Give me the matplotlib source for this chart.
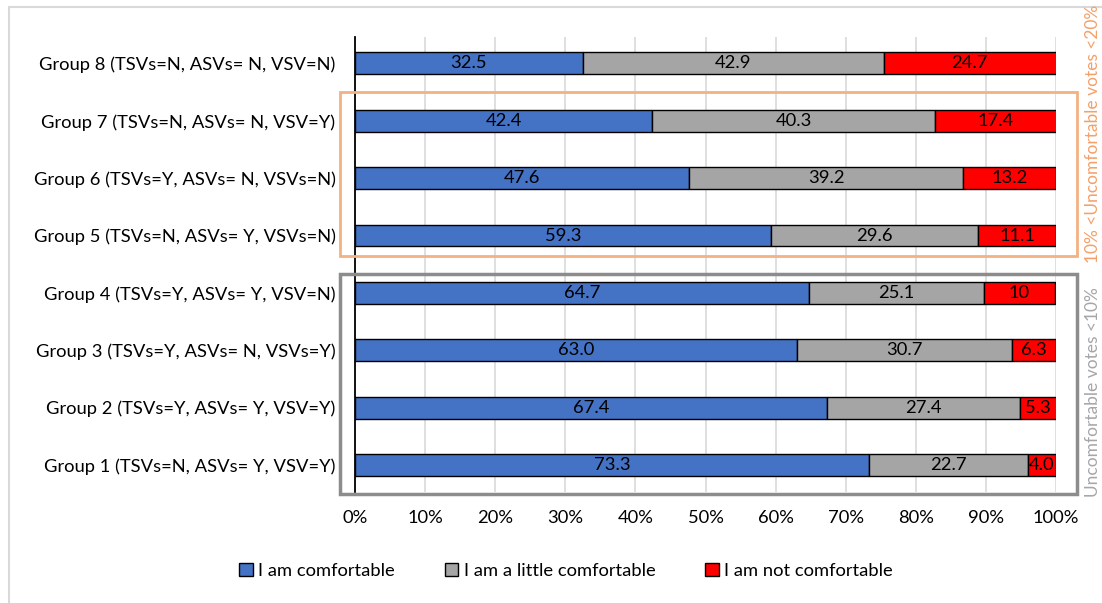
import numpy as np
import matplotlib
matplotlib.use("Agg")
from matplotlib import pyplot as plt
from matplotlib.patches import Rectangle

plt.rcParams['font.family'] = ['Lato', 'DejaVu Sans']

# groups from bottom (Group 1) to top (Group 8)
groups = ['Group 1 (TSVs=N, ASVs= Y, VSV=Y)',
          'Group 2 (TSVs=Y, ASVs= Y, VSV=Y)',
          'Group 3 (TSVs=Y, ASVs= N, VSVs=Y)',
          'Group 4 (TSVs=Y, ASVs= Y, VSV=N)',
          'Group 5 (TSVs=N, ASVs= Y, VSVs=N)',
          'Group 6 (TSVs=Y, ASVs= N, VSVs=N)',
          'Group 7 (TSVs=N, ASVs= N, VSV=Y)',
          'Group 8 (TSVs=N, ASVs= N, VSV=N)']
comfortable = ['73.3', '67.4', '63.0', '64.7', '59.3', '47.6', '42.4', '32.5']
little = ['22.7', '27.4', '30.7', '25.1', '29.6', '39.2', '40.3', '42.9']
not_comf = ['4.0', '5.3', '6.3', '10', '11.1', '13.2', '17.4', '24.7']
series_names = ['I am comfortable', 'I am a little comfortable', 'I am not comfortable']
series_colors = ['#4472C4', '#A5A5A5', '#FF0000']
xticks = [0, 10, 20, 30, 40, 50, 60, 70, 80, 90, 100]

FS = 13.2

fig = plt.figure(figsize=(11.02, 6.03), dpi=100)
ax = fig.add_axes([355/1102, 1-492/603, 701/1102, 455/603])

y = np.arange(len(groups))
left = np.zeros(len(groups))
for labels, name, col in zip([comfortable, little, not_comf], series_names, series_colors):
    vals = np.array([float(v) for v in labels])
    ax.barh(y, vals, left=left, height=0.38, color=col, edgecolor='black',
            linewidth=1.0, label=name, zorder=3)
    for yi, l, v, txt in zip(y, left, vals, labels):
        cx = min(l + v / 2, (l + 100) / 2)
        ax.text(cx, yi, txt, ha='center', va='center', fontsize=FS, color='black', zorder=4)
    left = left + vals

ax.set_xlim(0, 100)
ax.set_ylim(-0.47, 7.46)
ax.set_yticks(y)
ax.set_yticklabels(groups, fontsize=FS)
ax.set_xticks(xticks)
ax.set_xticklabels([f'{t}%' for t in xticks], fontsize=FS)
ax.tick_params(axis='both', length=0)
ax.tick_params(axis='y', pad=14)
ax.tick_params(axis='x', pad=13)
ax.grid(axis='x', color='#D9D9D9', linewidth=1.2, zorder=0)
for s in ['top', 'right', 'bottom']:
    ax.spines[s].set_visible(False)
ax.spines['left'].set_color('black')
ax.spines['left'].set_linewidth(1.3)
ax.spines['left'].set_zorder(5)

# outer chart border
fig.patches.append(Rectangle((9/1102, -0.1), 1.2, 1-7/603+0.1, transform=fig.transFigure,
                             fill=False, edgecolor='#D9D9D9', linewidth=1.5))

# boxes marking the uncomfortable-vote ranges
fig.patches.append(Rectangle((340/1102, 1-256/603), 737/1102, 164/603, transform=fig.transFigure,
                             fill=False, edgecolor='#F4B183', linewidth=2))
fig.patches.append(Rectangle((340/1102, 1-494/603), 737/1102, 220/603, transform=fig.transFigure,
                             fill=False, edgecolor='#8C8C8C', linewidth=2.5))
fig.text(1093/1102, 1-134/603, '10% <Uncomfortable votes <20%', rotation=90, ha='center',
         va='center', fontsize=12.5, color='#F4A06A')
fig.text(1093/1102, 1-392/603, 'Uncomfortable votes <10%', rotation=90, ha='center',
         va='center', fontsize=12.5, color='#A6A6A6')

handles, labels_ = ax.get_legend_handles_labels()
fig.legend(handles, labels_, loc='center', bbox_to_anchor=(566/1102, 1-571/603), ncol=3,
           frameon=False, fontsize=FS, handlelength=0.75, handleheight=0.75,
           handletextpad=0.3, columnspacing=2.7)

fig.savefig('out.png', dpi=100)
